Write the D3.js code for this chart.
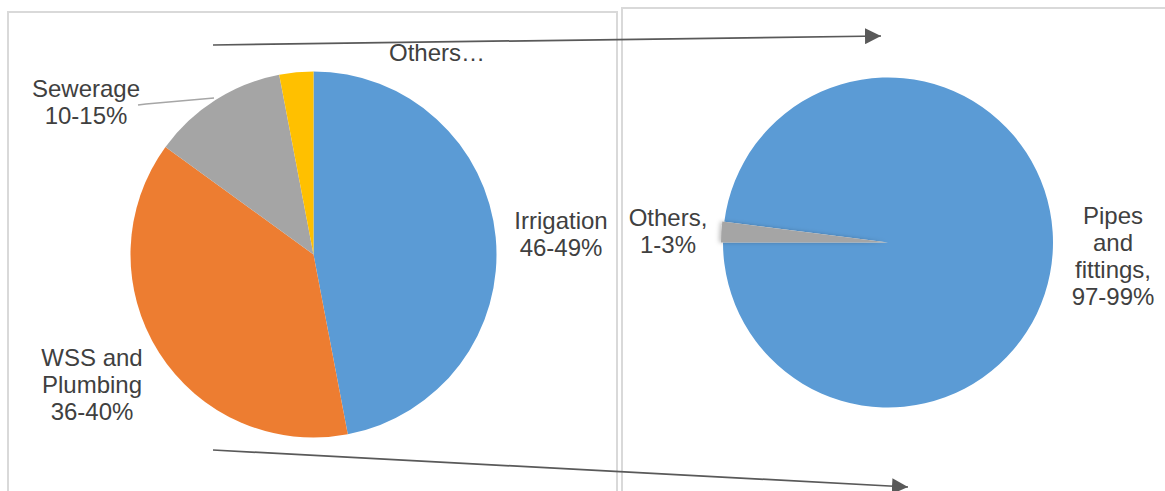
<!DOCTYPE html>
<html>
<head>
<meta charset="utf-8">
<script src="https://cdn.jsdelivr.net/npm/d3@7"></script>
<style>
  html, body { margin: 0; padding: 0; background: #fff; }
  svg { display: block; font-family: "Liberation Sans", Arial, sans-serif; }
</style>
</head>
<body>
<svg id="chart" width="1165" height="491"></svg>
<script>
// ---- data ----
const mainCategories = ["Irrigation", "WSS and Plumbing", "Sewerage", "Others"];
const mainValues = [47, 38, 12, 3];
const mainLabels = [["Irrigation", "46-49%"], ["WSS and", "Plumbing", "36-40%"], ["Sewerage", "10-15%"], ["Others…"]];

const subCategories = ["Pipes and fittings", "Others"];
const subValues = [98, 2];
const subLabels = [["Pipes", "and", "fittings,", "97-99%"], ["Others,", "1-3%"]];

// ---- layout / style ----
const mainColors = ["#5b9bd5", "#ed7d31", "#a5a5a5", "#ffc000"];
const subColors = ["#5b9bd5", "#a5a5a5"];
const mainPie = { cx: 313.5, cy: 254.5, r: 183 };
const subPie = { cx: 888, cy: 242.5, r: 165 };
const mainLabelPos = [{x: 561, y: 229}, {x: 92, y: 366}, {x: 86, y: 97}, {x: 437, y: 61}];
const subLabelPos = [{x: 1113, y: 224}, {x: 668, y: 226}];
const lineH = 27;
const textColor = "#404040";

const svg = d3.select("#chart");

// panel borders
svg.append("rect").attr("x", 8).attr("y", 12).attr("width", 609).attr("height", 520)
  .attr("fill", "none").attr("stroke", "#d9d9d9").attr("stroke-width", 2);
svg.append("rect").attr("x", 622).attr("y", 8).attr("width", 600).attr("height", 520)
  .attr("fill", "none").attr("stroke", "#d9d9d9").attr("stroke-width", 2);

// shadow filter + arrow marker
const defs = svg.append("defs");
const f = defs.append("filter").attr("id", "shadow").attr("x", "-50%").attr("y", "-50%").attr("width", "200%").attr("height", "200%");
f.append("feDropShadow").attr("dx", -2).attr("dy", 0).attr("stdDeviation", 2).attr("flood-color", "#000").attr("flood-opacity", 0.25);
defs.append("marker").attr("id", "arrow").attr("viewBox", "0 0 10 10")
  .attr("refX", 10).attr("refY", 5).attr("markerWidth", 16).attr("markerHeight", 16)
  .attr("markerUnits", "userSpaceOnUse").attr("orient", "auto")
  .append("path").attr("d", "M0,0 L10,5 L0,10 Z").attr("fill", "#595959");

// main pie
const pieMain = d3.pie().sort(null).value(d => d);
const arcMain = d3.arc().innerRadius(0).outerRadius(mainPie.r);
const gMain = svg.append("g").attr("transform", `translate(${mainPie.cx},${mainPie.cy})`);
gMain.selectAll("path").data(pieMain(mainValues)).join("path")
  .attr("d", arcMain).attr("fill", (d, i) => mainColors[i]);

// sub pie
const subStart = 1.5 * Math.PI + (subValues[1] / d3.sum(subValues)) * 2 * Math.PI;
const pieSub = d3.pie().sort(null).value(d => d).startAngle(subStart).endAngle(subStart + 2 * Math.PI);
const arcSub = d3.arc().innerRadius(0).outerRadius(subPie.r);
const arcSubOut = d3.arc().innerRadius(0).outerRadius(subPie.r + 2);
const gSub = svg.append("g").attr("transform", `translate(${subPie.cx},${subPie.cy})`);
gSub.selectAll("path").data(pieSub(subValues)).join("path")
  .attr("d", (d, i) => i === 1 ? arcSubOut(d) : arcSub(d))
  .attr("fill", (d, i) => subColors[i])
  .attr("filter", (d, i) => i === 1 ? "url(#shadow)" : null);

// leader line for Sewerage
svg.append("polyline").attr("points", "138,105 146,104 214,98")
  .attr("fill", "none").attr("stroke", "#a6a6a6").attr("stroke-width", 1.5);

// connector arrows
svg.append("line").attr("x1", 213).attr("y1", 45).attr("x2", 881).attr("y2", 36)
  .attr("stroke", "#595959").attr("stroke-width", 1.75).attr("marker-end", "url(#arrow)");
svg.append("line").attr("x1", 213).attr("y1", 450).attr("x2", 908).attr("y2", 487)
  .attr("stroke", "#595959").attr("stroke-width", 1.75).attr("marker-end", "url(#arrow)");

// labels
function drawLabels(labels, pos) {
  labels.forEach((lines, i) => {
    const t = svg.append("text").attr("text-anchor", "middle")
      .attr("font-size", 24).attr("fill", textColor);
    lines.forEach((ln, j) => {
      t.append("tspan").attr("x", pos[i].x).attr("y", pos[i].y + j * lineH).text(ln);
    });
  });
}
drawLabels(mainLabels, mainLabelPos);
drawLabels(subLabels, subLabelPos);
</script>
</body>
</html>
